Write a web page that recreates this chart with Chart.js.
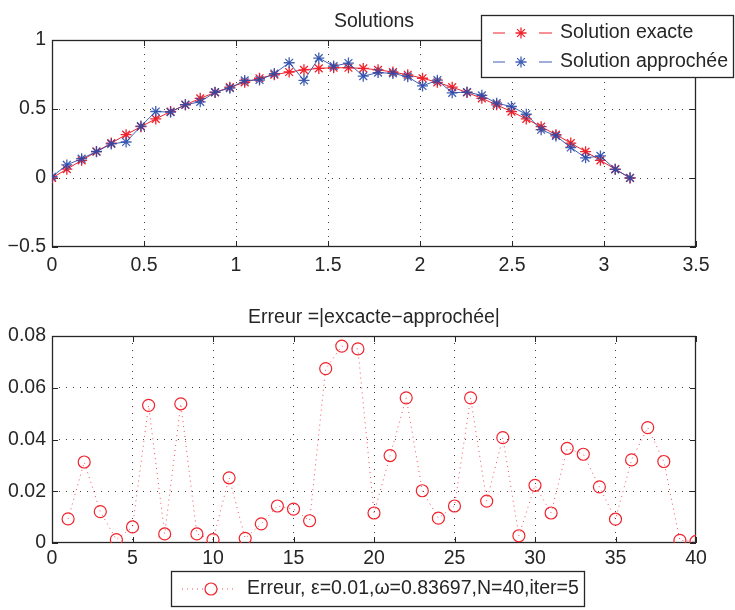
<!DOCTYPE html>
<html>
<head>
<meta charset="utf-8">
<script src="https://cdn.jsdelivr.net/npm/chart.js@4.4.1/dist/chart.umd.min.js"></script>
<style>
  html, body { margin: 0; padding: 0; background: #fff; }
  #wrap { position: relative; width: 735px; height: 610px; overflow: hidden; }
  canvas { position: absolute; left: 0; }
  #solCanvas { top: 0; }
  #errCanvas { top: 290px; }
</style>
</head>
<body>
<div id="wrap">
  <canvas id="solCanvas" width="735" height="290"></canvas>
  <canvas id="errCanvas" width="735" height="320"></canvas>
</div>
<script>
// Grid nodes on [0, pi] (N = 40 nodes)
const solX = [0, 0.0806, 0.1611, 0.2417, 0.3222, 0.4028, 0.4833, 0.5639, 0.6444, 0.7250,
  0.8055, 0.8861, 0.9666, 1.0472, 1.1278, 1.2083, 1.2889, 1.3694, 1.4500, 1.5305,
  1.6111, 1.6916, 1.7722, 1.8527, 1.9333, 2.0138, 2.0944, 2.1750, 2.2555, 2.3361,
  2.4166, 2.4972, 2.5777, 2.6583, 2.7388, 2.8194, 2.8999, 2.9805, 3.0610, 3.1416];

// Exact solution at the nodes
const exactSol = [0, 0.064, 0.128, 0.191, 0.253, 0.314, 0.372, 0.428, 0.481, 0.530,
  0.577, 0.620, 0.658, 0.693, 0.723, 0.748, 0.768, 0.784, 0.794, 0.799,
  0.799, 0.794, 0.784, 0.768, 0.748, 0.723, 0.693, 0.658, 0.620, 0.577,
  0.530, 0.481, 0.428, 0.372, 0.314, 0.253, 0.191, 0.128, 0.064, 0];

// Approximate solution after 5 iterations
const approxSol = [0.009, 0.095, 0.140, 0.192, 0.247, 0.261, 0.376, 0.482, 0.477, 0.531,
  0.552, 0.622, 0.651, 0.707, 0.710, 0.757, 0.835, 0.708, 0.869, 0.811,
  0.833, 0.738, 0.764, 0.758, 0.734, 0.667, 0.709, 0.617, 0.623, 0.599,
  0.542, 0.518, 0.462, 0.350, 0.305, 0.221, 0.146, 0.160, 0.063, 0.001];

// Node index and absolute error |exacte - approchée|
const nodeIndex = [1, 2, 3, 4, 5, 6, 7, 8, 9, 10, 11, 12, 13, 14, 15, 16, 17, 18, 19, 20,
  21, 22, 23, 24, 25, 26, 27, 28, 29, 30, 31, 32, 33, 34, 35, 36, 37, 38, 39, 40];
const errVals = [0.0093, 0.0313, 0.0121, 0.0013, 0.0062, 0.0532, 0.0035, 0.0538, 0.0035, 0.0013,
  0.0252, 0.0018, 0.0074, 0.0143, 0.0131, 0.0086, 0.0674, 0.0761, 0.0750, 0.0116,
  0.0338, 0.0561, 0.0202, 0.0096, 0.0143, 0.0561, 0.0162, 0.0407, 0.0028, 0.0223,
  0.0116, 0.0366, 0.0343, 0.0217, 0.0092, 0.0321, 0.0446, 0.0315, 0.0010, 0.0006];

// Tick values
const solXTicks = [0, 0.5, 1, 1.5, 2, 2.5, 3, 3.5];
const solYTicks = [-0.5, 0, 0.5, 1];
const errXTicks = [0, 5, 10, 15, 20, 25, 30, 35, 40];
const errYTicks = [0, 0.02, 0.04, 0.06, 0.08];

const FONT = '"Liberation Sans", Arial, Helvetica, sans-serif';
const FONT_SIZE = 19.5;
const TEXT = '#262626';
const RED = '#f0232d';
const BLUE = 'rgba(40, 74, 170, 0.88)';
Chart.defaults.font.family = FONT;
Chart.defaults.font.size = FONT_SIZE;
Chart.defaults.color = TEXT;

const fmt = v => String(v).replace('-', '\u2212');

function gridColor(ctx) {
  const n = ctx.scale.ticks.length;
  return (ctx.index === 0 || ctx.index === n - 1) ? 'rgba(0,0,0,0)' : 'rgba(30,30,30,0.85)';
}

function makeScale(ticksArr, min, max, fit, pad) {
  return {
    type: 'linear', min, max,
    afterBuildTicks: s => { s.ticks = ticksArr.map(v => ({ value: v })); },
    afterFit: fit,
    ticks: { padding: pad, color: TEXT, callback: v => fmt(v), maxRotation: 0, autoSkip: false },
    grid: { color: gridColor, drawTicks: false, lineWidth: 1 },
    border: { display: false, dash: [1, 6] }
  };
}

function drawStarAt(ctx, x, y, color) {
  ctx.save();
  ctx.strokeStyle = color; ctx.fillStyle = 'rgba(0,0,0,0)'; ctx.lineWidth = 1.3;
  Chart.helpers.drawPoint(ctx, { pointStyle: 'star', radius: 5.5, borderWidth: 1.3, rotation: 0 }, x, y);
  ctx.restore();
}

// Axes box, inward tick marks, title and legend
const framePlugin = {
  id: 'frame',
  beforeDatasetsDraw(chart) {
    const { ctx, chartArea: a, scales } = chart;
    ctx.save();
    ctx.strokeStyle = TEXT; ctx.lineWidth = 1;
    ctx.beginPath();
    const tl = 6;
    scales.x.ticks.forEach(t => {
      const px = Math.round(scales.x.getPixelForValue(t.value)) + 0.5;
      ctx.moveTo(px, a.bottom); ctx.lineTo(px, a.bottom - tl);
      ctx.moveTo(px, a.top); ctx.lineTo(px, a.top + tl);
    });
    scales.y.ticks.forEach(t => {
      const py = Math.round(scales.y.getPixelForValue(t.value)) + 0.5;
      ctx.moveTo(a.left, py); ctx.lineTo(a.left + tl, py);
      ctx.moveTo(a.right, py); ctx.lineTo(a.right - tl, py);
    });
    ctx.stroke();
    ctx.lineWidth = 1.3;
    ctx.strokeRect(a.left + 0.5, a.top + 0.5, a.right - a.left - 1, a.bottom - a.top - 1);
    ctx.restore();
  },
  afterDraw(chart, args, o) {
    const { ctx, chartArea: a } = chart;
    ctx.save();
    ctx.fillStyle = TEXT;
    ctx.font = FONT_SIZE + 'px ' + FONT;
    ctx.textAlign = 'center';
    ctx.textBaseline = 'alphabetic';
    ctx.fillText(o.title, (a.left + a.right) / 2, a.top - 13);

    const L = o.legend;
    ctx.fillStyle = '#fff';
    ctx.fillRect(L.x, L.y, L.w, L.h);
    ctx.strokeStyle = TEXT; ctx.lineWidth = 1.3;
    ctx.strokeRect(L.x + 0.5, L.y + 0.5, L.w, L.h);
    ctx.textAlign = 'left'; ctx.textBaseline = 'middle';
    L.rows.forEach(r => {
      const ds = chart.data.datasets[r.ds];
      const col = ds.borderColor;
      if (r.kind === 'star') {
        ctx.strokeStyle = col; ctx.lineWidth = 1;
        ctx.beginPath();
        ctx.moveTo(L.x + 12, r.y); ctx.lineTo(L.x + 24, r.y);
        ctx.moveTo(L.x + 58, r.y); ctx.lineTo(L.x + 71, r.y);
        ctx.stroke();
        drawStarAt(ctx, L.x + 40, r.y, ds.pointBorderColor || col);
      } else {
        ctx.strokeStyle = col; ctx.lineWidth = 1;
        ctx.setLineDash([1, 4]);
        ctx.beginPath(); ctx.moveTo(L.x + 11, r.y); ctx.lineTo(L.x + 65, r.y); ctx.stroke();
        ctx.setLineDash([]);
        ctx.fillStyle = '#fff';
        ctx.beginPath(); ctx.arc(L.x + 40, r.y, 6, 0, Math.PI * 2); ctx.fill();
        ctx.strokeStyle = RED; ctx.lineWidth = 1.2; ctx.stroke();
      }
      ctx.fillStyle = TEXT;
      ctx.fillText(ds.label, L.x + r.tx, r.y);
    });
    ctx.restore();
  }
};

// Top: exact vs approximate solution
new Chart(document.getElementById('solCanvas'), {
  type: 'scatter',
  data: {
    datasets: [
      {
        label: 'Solution exacte', order: 1,
        data: solX.map((x, i) => ({ x, y: exactSol[i] })),
        showLine: true, borderColor: RED, borderWidth: 1,
        pointStyle: 'star', pointRadius: 5.5, pointBorderWidth: 1.3, pointBorderColor: RED,
        pointBackgroundColor: 'rgba(0,0,0,0)'
      },
      {
        label: 'Solution approchée', order: 0,
        data: solX.map((x, i) => ({ x, y: approxSol[i] })),
        showLine: true, borderColor: BLUE, borderWidth: 1,
        pointStyle: 'star', pointRadius: 5.5, pointBorderWidth: 1.3, pointBorderColor: BLUE,
        pointBackgroundColor: 'rgba(0,0,0,0)'
      }
    ]
  },
  options: {
    responsive: false, animation: false, devicePixelRatio: 1,
    layout: { padding: { left: 0, right: 39, top: 40, bottom: 0 } },
    scales: {
      x: makeScale(solXTicks, 0, 3.5, s => { s.height = 43; }, 7),
      y: makeScale(solYTicks, -0.5, 1, s => { s.width = 52; }, 6)
    },
    plugins: {
      legend: { display: false }, tooltip: { enabled: false },
      frame: {
        title: 'Solutions',
        legend: { x: 481, y: 15, w: 252, h: 62, rows: [
          { ds: 0, y: 33, kind: 'star', tx: 79 },
          { ds: 1, y: 62, kind: 'star', tx: 79 }
        ] }
      }
    }
  },
  plugins: [framePlugin]
});

// Bottom: absolute error per node
new Chart(document.getElementById('errCanvas'), {
  type: 'scatter',
  data: {
    datasets: [{
      label: 'Erreur, \u03b5=0.01,\u03c9=0.83697,N=40,iter=5',
      data: nodeIndex.map((n, i) => ({ x: n, y: errVals[i] })),
      showLine: true, borderColor: 'rgba(240,35,45,0.8)', borderWidth: 1, borderDash: [1, 4],
      pointStyle: 'circle', pointRadius: 6, pointBorderWidth: 1.2, pointBorderColor: RED,
      pointBackgroundColor: 'rgba(0,0,0,0)'
    }]
  },
  options: {
    responsive: false, animation: false, devicePixelRatio: 1,
    layout: { padding: { left: 0, right: 39, top: 46, bottom: 0 } },
    scales: {
      x: makeScale(errXTicks, 0, 40, s => { s.height = 67; }, 4),
      y: makeScale(errYTicks, 0, 0.08, s => { s.width = 52; }, 6)
    },
    plugins: {
      legend: { display: false }, tooltip: { enabled: false },
      frame: {
        title: 'Erreur =|excacte\u2212approchée|',
        legend: { x: 171, y: 281, w: 413, h: 35, rows: [
          { ds: 0, y: 299, kind: 'circle', tx: 76 }
        ] }
      }
    }
  },
  plugins: [framePlugin]
});
</script>
</body>
</html>
